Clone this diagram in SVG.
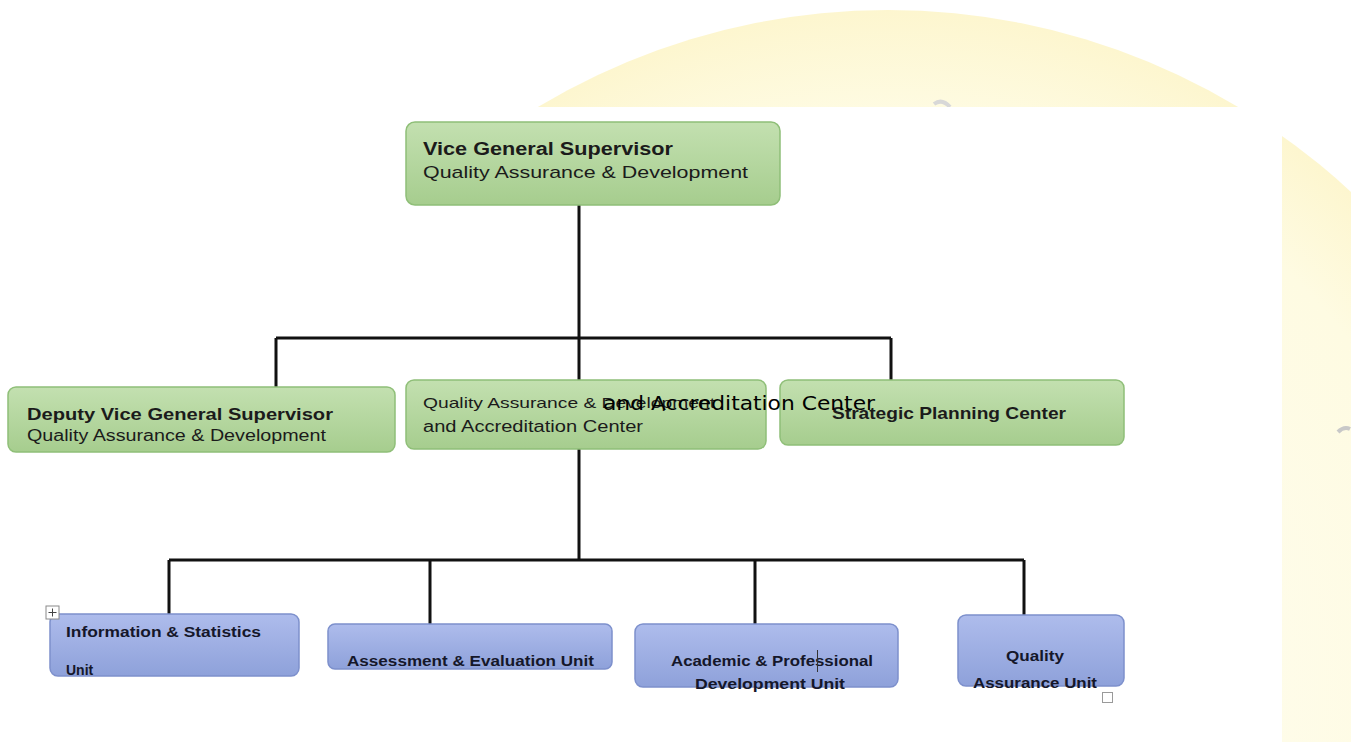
<svg xmlns="http://www.w3.org/2000/svg" width="1351" height="742" viewBox="0 0 1351 742">
  <defs>
    <linearGradient id="gGreen" x1="0" y1="0" x2="0" y2="1">
      <stop offset="0" stop-color="#c3e0b0"/>
      <stop offset="1" stop-color="#a6cd8e"/>
    </linearGradient>
    <linearGradient id="gBlue" x1="0" y1="0" x2="0" y2="1">
      <stop offset="0" stop-color="#aebcec"/>
      <stop offset="1" stop-color="#8ea1da"/>
    </linearGradient>
    <radialGradient id="gSeal" cx="0.5" cy="0.5" r="0.5">
      <stop offset="0" stop-color="#fffef6"/>
      <stop offset="0.85" stop-color="#fefbe2"/>
      <stop offset="1" stop-color="#fdf6cf"/>
    </radialGradient>
  </defs>
  <style>
    .green { fill: url(#gGreen); stroke: #8fbf78; stroke-width: 1.5; }
    .blue { fill: url(#gBlue); stroke: #7d90cc; stroke-width: 1.5; }
    .t { font-family: "Liberation Sans", Arial, sans-serif; fill: #1b1b1b; }
    .b { font-weight: bold; }
    .u { font-family: "Liberation Sans", Arial, sans-serif; font-weight: bold; font-size: 14px; fill: #15172a; }
    .wire { fill: none; stroke: #111; stroke-width: 3; }
  </style>

  <!-- page background with faint seal watermark -->
  <rect x="0" y="0" width="1351" height="742" fill="#ffffff"/>
  <circle cx="888" cy="690" r="680" fill="url(#gSeal)"/>
  <path d="M934 104 q8 -6 16 3" fill="none" stroke="#d8d8d8" stroke-width="4"/>
  <path d="M1338 432 q6 -6 12 -3" fill="none" stroke="#c8c8c8" stroke-width="4"/>
  <rect x="0" y="107" width="1282" height="635" fill="#ffffff"/>

  <!-- connectors -->
  <g id="connectors">
    <path class="wire" d="M579 205 V338 M276 338 H891 M276 338 V387 M579 338 V380 M891 338 V380"/>
    <path class="wire" d="M579 449 V560 M169 560 H1024 M169 560 V623 M430 560 V625 M755 560 V625 M1024 560 V625"/>
  </g>

  <g id="vice-general-supervisor">
    <rect class="green" x="406" y="122" width="374" height="83" rx="9"/>
    <text class="t b" x="423" y="155" font-size="18" textLength="250" lengthAdjust="spacingAndGlyphs">Vice General Supervisor</text>
    <text class="t" x="423" y="178" font-size="17" textLength="325" lengthAdjust="spacingAndGlyphs">Quality Assurance &amp; Development</text>
  </g>

  <g id="deputy-vice-general-supervisor">
    <rect class="green" x="8" y="387" width="387" height="65" rx="8"/>
    <text class="t b" x="27" y="420" font-size="17" textLength="306" lengthAdjust="spacingAndGlyphs">Deputy Vice General Supervisor</text>
    <text class="t" x="27" y="441" font-size="16" textLength="299" lengthAdjust="spacingAndGlyphs">Quality Assurance &amp; Development</text>
  </g>

  <g id="strategic-planning-center">
    <rect class="green" x="780" y="380" width="344" height="65" rx="8"/>
    <text class="t b" x="832" y="419" font-size="17" fill="#243024" textLength="234" lengthAdjust="spacingAndGlyphs">Strategic Planning Center</text>
  </g>

  <!-- its stray second caption runs over the neighbouring box, so it is drawn last of the row -->
  <g id="qa-accreditation-center">
    <rect class="green" x="406" y="380" width="360" height="69" rx="8"/>
    <text class="t" x="423" y="408" font-size="15" fill="#2a2a2a" textLength="292" lengthAdjust="spacingAndGlyphs">Quality Assurance &amp; Development</text>
    <text class="t" x="423" y="432" font-size="16" textLength="220" lengthAdjust="spacingAndGlyphs">and Accreditation Center</text>
    <text x="603" y="410" font-family="DejaVu Sans, sans-serif" font-size="20" fill="#000" textLength="272" lengthAdjust="spacingAndGlyphs">and Accreditation Center</text>
  </g>

  <g id="information-statistics-unit">
    <rect class="blue" x="50" y="614" width="249" height="62" rx="8"/>
    <text class="u" x="66" y="637" textLength="195" lengthAdjust="spacingAndGlyphs">Information &amp; Statistics</text>
    <text class="u" x="66" y="675">Unit</text>
    <rect x="46" y="606" width="13" height="13" fill="#fff" stroke="#8a8a8a" stroke-width="1"/>
    <path d="M52.5 608.5 V616.5 M48.5 612.5 H56.5" stroke="#444" stroke-width="1"/>
  </g>

  <g id="assessment-evaluation-unit">
    <rect class="blue" x="328" y="624" width="284" height="45" rx="7"/>
    <text class="u" x="347" y="666" textLength="247" lengthAdjust="spacingAndGlyphs">Assessment &amp; Evaluation Unit</text>
  </g>

  <g id="academic-professional-development-unit">
    <rect class="blue" x="635" y="624" width="263" height="63" rx="8"/>
    <text class="u" x="772" y="666" text-anchor="middle" textLength="202" lengthAdjust="spacingAndGlyphs">Academic &amp; Professional</text>
    <text class="u" x="770" y="689" text-anchor="middle" textLength="150" lengthAdjust="spacingAndGlyphs">Development Unit</text>
    <path d="M817.5 650 V672" stroke="#333" stroke-width="1"/>
  </g>

  <g id="quality-assurance-unit">
    <rect class="blue" x="958" y="615" width="166" height="71" rx="8"/>
    <text class="u" x="1035" y="661" text-anchor="middle" textLength="58" lengthAdjust="spacingAndGlyphs">Quality</text>
    <text class="u" x="1035" y="688" text-anchor="middle" textLength="124" lengthAdjust="spacingAndGlyphs">Assurance Unit</text>
  </g>

  <rect x="1102.5" y="692.5" width="10" height="10" fill="#fff" stroke="#9a9a9a" stroke-width="1"/>
</svg>
